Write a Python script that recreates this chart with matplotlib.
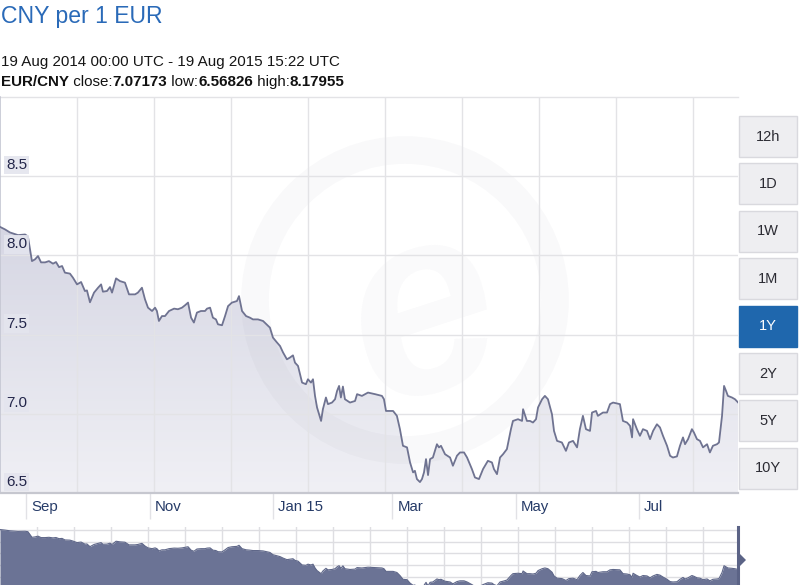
import numpy as np
import matplotlib
matplotlib.use('Agg')
import matplotlib.pyplot as plt
from matplotlib.patches import Rectangle, Polygon, Ellipse
from matplotlib.colors import LinearSegmentedColormap

plt.rcParams['font.family'] = ['Liberation Sans', 'DejaVu Sans']

# ---------------- data ----------------
start_date = np.datetime64('2014-08-19')
end_days = 365.0

day_offset = [
    0.0, 2.5, 4.9, 8.9, 12.4, 13.8, 15.8, 17.3, 18.8, 20.3, 22.3, 24.2, 26.2, 27.7, 29.2, 30.7,
    32.1, 34.6, 36.1, 38.1, 40.1, 42.0, 43.0, 44.5, 46.5, 48.5, 50.0, 50.9, 52.9, 54.4, 55.4, 57.4,
    59.3, 61.8, 63.8, 66.8, 68.2, 70.2, 71.7, 73.2, 75.2, 76.7, 77.6, 78.6, 80.1, 81.6, 83.6, 86.1,
    88.0, 90.0, 91.5, 93.0, 94.5, 95.9, 97.4, 99.4, 101.4, 102.4, 103.9, 105.3, 106.8, 107.8, 109.8,
    111.3, 112.8, 114.7, 117.2, 118.2, 119.7, 121.7, 123.6, 125.1, 127.6, 130.1, 133.5, 135.0, 137.0,
    138.5, 140.0, 141.9, 143.4, 144.9, 145.9, 147.4, 149.4, 151.3, 152.3, 153.8, 154.8, 155.8, 156.8,
    157.8, 158.8, 159.7, 161.2, 162.2, 164.2, 165.7, 166.7, 167.7, 168.6, 169.6, 170.6, 173.1, 175.6,
    176.6, 179.0, 182.0, 185.5, 188.9, 189.9, 190.9, 194.4, 196.3, 197.8, 199.3, 201.3, 202.8, 204.3,
    205.2, 206.2, 207.7, 208.7, 209.7, 210.7, 211.7, 212.7, 214.1, 216.1, 217.1, 218.1, 220.1, 222.6,
    224.0, 226.0, 227.5, 229.5, 231.0, 233.4, 234.9, 236.9, 238.9, 241.3, 243.3, 244.3, 245.8, 247.3,
    248.8, 250.7, 252.7, 253.7, 256.2, 258.2, 258.7, 260.6, 262.1, 263.6, 265.1, 266.1, 268.1, 269.5,
    271.0, 273.0, 274.0, 275.5, 277.9, 279.9, 281.4, 283.4, 285.4, 286.8, 288.3, 289.8, 291.8, 292.8,
    294.8, 295.7, 298.2, 300.2, 301.7, 303.2, 306.6, 308.1, 310.1, 311.6, 312.6, 313.1, 315.0, 316.5,
    318.0, 320.0, 321.5, 323.0, 324.9, 326.4, 327.9, 329.9, 331.4, 332.8, 334.8, 336.3, 337.8, 338.8,
    340.3, 342.2, 343.2, 344.7, 346.2, 347.7, 349.7, 351.1, 352.6, 354.6, 355.6, 357.1, 358.1, 359.1,
    360.0, 362.0, 363.5, 365.0,
]

eur_cny = [
    8.180, 8.164, 8.145, 8.128, 8.132, 8.120, 7.964, 7.975, 7.996, 7.956, 7.956, 7.964, 7.948, 7.958, 7.926, 7.933,
    7.891, 7.885, 7.859, 7.817, 7.832, 7.775, 7.779, 7.704, 7.765, 7.796, 7.817, 7.771, 7.775, 7.800, 7.765, 7.855,
    7.838, 7.828, 7.754, 7.754, 7.765, 7.796, 7.723, 7.670, 7.649, 7.670, 7.649, 7.586, 7.617, 7.617, 7.649, 7.664,
    7.660, 7.670, 7.685, 7.702, 7.607, 7.576, 7.639, 7.649, 7.649, 7.664, 7.670, 7.607, 7.596, 7.565, 7.559,
    7.617, 7.680, 7.702, 7.712, 7.743, 7.649, 7.617, 7.607, 7.596, 7.596, 7.586, 7.544, 7.481, 7.450,
    7.428, 7.387, 7.344, 7.355, 7.369, 7.323, 7.302, 7.197, 7.187, 7.218, 7.197, 7.218, 7.113, 7.040,
    6.997, 6.955, 7.029, 7.103, 7.061, 7.071, 7.092, 7.144, 7.176, 7.103, 7.172, 7.092, 7.071, 7.081,
    7.124, 7.113, 7.134, 7.124, 7.113, 7.092, 7.018, 7.018, 6.987, 6.903, 6.798, 6.788, 6.693, 6.630,
    6.640, 6.588, 6.569, 6.588, 6.630, 6.714, 6.613, 6.714, 6.724, 6.808, 6.788, 6.798, 6.745, 6.724,
    6.672, 6.735, 6.756, 6.756, 6.724, 6.651, 6.598, 6.588, 6.651, 6.703, 6.693, 6.651, 6.619, 6.724,
    6.745, 6.777, 6.903, 6.955, 6.966, 6.955, 7.029, 6.955, 6.955, 6.945, 6.966, 7.040, 7.092, 7.113,
    7.092, 6.997, 6.892, 6.829, 6.819, 6.766, 6.819, 6.829, 6.788, 6.903, 6.987, 6.903, 6.892, 7.008,
    7.018, 6.987, 7.008, 7.008, 7.061, 7.071, 7.061, 6.955, 6.945, 6.924, 6.851, 6.966, 6.903, 6.861,
    6.903, 6.892, 6.840, 6.892, 6.934, 6.914, 6.861, 6.798, 6.735, 6.724, 6.731, 6.798, 6.851, 6.808,
    6.840, 6.903, 6.882, 6.840, 6.829, 6.788, 6.808, 6.756, 6.798, 6.808, 6.819, 6.987, 7.176, 7.144,
    7.113, 7.103, 7.092, 7.072,
]

month_dates = ['2014-09-01', '2014-11-01', '2015-01-01', '2015-03-01', '2015-05-01', '2015-07-01']
month_labels = ['Sep', 'Nov', 'Jan 15', 'Mar', 'May', 'Jul']
y_ticks = [6.5, 7.0, 7.5, 8.0, 8.5]
y_tick_labels = ['6.5', '7.0', '7.5', '8.0', '8.5']
range_buttons = ['12h', '1D', '1W', '1M', '1Y', '2Y', '5Y', '10Y']
active_button = '1Y'
title_text = 'CNY per 1 EUR'
period_text = '19 Aug 2014 00:00 UTC - 19 Aug 2015 15:22 UTC'
pair_text = 'EUR/CNY'
stat_names = ['close', 'low', 'high']
stat_values = ['7.07173', '6.56826', '8.17955']

# ---------------- layout helpers ----------------
W, H = 800, 585
fig = plt.figure(figsize=(W / 100, H / 100), dpi=100)
fig.patch.set_facecolor('white')


def fx(px):
    return px / W


def fy(py):
    return 1 - py / H


x = np.array(day_offset)
y = np.array(eur_cny)
month_pos = [(np.datetime64(d) - start_date) / np.timedelta64(1, 'D') for d in month_dates]

plot_left, plot_right, plot_top, plot_bottom = 0, 738, 97, 493
ax = fig.add_axes([fx(plot_left), fy(plot_bottom), fx(plot_right - plot_left),
                   (plot_bottom - plot_top) / H])
ax.set_xlim(0, end_days)
ax.set_ylim(6.5, 9.0)
ax.set_facecolor('white')

# grid
ax.set_yticks(y_ticks)
ax.set_xticks(month_pos)
ax.set_xticks(np.arange(38.07, end_days, 38.07), minor=True)
ax.grid(axis='y', which='major', color='#e3e3e6', lw=1.0, zorder=0)
ax.grid(axis='x', which='minor', color='#e3e3e6', lw=1.0, zorder=0)
ax.tick_params(axis='y', left=False, labelleft=False)
ax.tick_params(axis='x', which='major', direction='out', length=19, width=1,
               color='#e2e2e6', labelbottom=False)
ax.tick_params(axis='x', which='minor', length=0)

for s in ['top', 'right']:
    ax.spines[s].set_visible(False)
ax.spines['left'].set_color('#c4c6d2')
ax.spines['left'].set_linewidth(1.2)
ax.spines['bottom'].set_color('#c6c7cf')
ax.spines['bottom'].set_linewidth(1.6)
ax.plot([0, 1], [1, 1], transform=ax.transAxes, color='#e3e3e6', lw=1, clip_on=False)

# watermark (faint logo)
wm_col = (0.1, 0.1, 0.25, 0.022)
ring = Ellipse((fx(405), fy(300)), 2 * 150 / W, 2 * 150 / H, transform=fig.transFigure,
               fill=False, lw=20, edgecolor=wm_col, zorder=1.5)
ax.add_patch(ring)
ax.text(fx(425), fy(320), 'e', transform=fig.transFigure, fontsize=190, fontweight='bold',
        fontstyle='italic', rotation=18, color=wm_col, ha='center', va='center', zorder=1.5)

# gradient area fill
verts = np.column_stack([np.concatenate([[x[0]], x, [x[-1]]]),
                         np.concatenate([[6.5], y, [6.5]])])
clip_poly = Polygon(verts, closed=True, facecolor='none', edgecolor='none')
ax.add_patch(clip_poly)
cmap = LinearSegmentedColormap.from_list('area', ['#f0f0f5', '#c9cadb'])
grad = np.linspace(0, 1, 256).reshape(-1, 1)
im = ax.imshow(grad, extent=[0, end_days, 6.5, 9.0], origin='lower', aspect='auto',
               cmap=cmap, zorder=1, interpolation='bilinear')
im.set_clip_path(clip_poly)
ax.plot(x, y, color='#6f7391', lw=1.3, zorder=3, solid_joinstyle='round')

# y labels inside the plot
for v, lab in zip(y_ticks, y_tick_labels):
    ax.annotate(lab, xy=(0, v), xycoords=('axes fraction', 'data'), xytext=(6, 4),
                textcoords='offset pixels', ha='left', va='bottom', fontsize=11,
                color='#23264a', zorder=4,
                bbox=dict(boxstyle='square,pad=0.15', facecolor='#e4e5ee', edgecolor='none', alpha=0.9))

# month labels
for p, lab in zip(month_pos, month_labels):
    ax.annotate(lab, xy=(p, 0), xycoords=('data', 'axes fraction'), xytext=(5, -14),
                textcoords='offset pixels', ha='left', va='center', fontsize=10.8,
                color='#263b68', annotation_clip=False)

# ---------------- navigator ----------------
nav = fig.add_axes([fx(0), 0, fx(738), 58 / H])
nav.set_xlim(0, end_days)
nav.set_ylim(6.64, 8.25)
nav.set_facecolor('white')
for s in nav.spines.values():
    s.set_visible(False)
nav.set_xticks(np.arange(18.3, end_days, 18.3))
nav.set_yticks([])
nav.tick_params(length=0, labelbottom=False, labelleft=False)
nav.grid(axis='x', color='#dedee2', lw=1, zorder=0)
for f in [0.948, 0.741, 0.552, 0.345, 0.138]:
    nav.plot([0, 1], [f, f], transform=nav.transAxes, color='#dedee2', lw=1, zorder=0)
nav.fill_between(x, y, 6.0, color='#6b7395', lw=0, zorder=2)
nav.plot(x, y, color='#5f6789', lw=0.8, zorder=3)
nav.plot([1, 1], [0, 1], transform=nav.transAxes, color='#5b6386', lw=2.2, clip_on=False, zorder=4)
fig.add_artist(Polygon([[fx(739), fy(553)], [fx(746), fy(560)], [fx(739), fy(567)]],
                       closed=True, transform=fig.transFigure, facecolor='#5b6386',
                       edgecolor='none'))

# ---------------- buttons ----------------
btn_top0, btn_pitch, btn_h = 116, 47.4, 41
for i, lab in enumerate(range_buttons):
    top = btn_top0 + i * btn_pitch
    active = lab == active_button
    fig.add_artist(Rectangle((fx(739), fy(top + btn_h)), fx(58), btn_h / H,
                             transform=fig.transFigure,
                             facecolor='#1f67ad' if active else '#eeeef1',
                             edgecolor='#1f67ad' if active else '#d9d9de', lw=1))
    fig.text(fx(768), fy(top + btn_h / 2), lab, ha='center', va='center', fontsize=10.5,
             color='white' if active else '#2b2b33')

# ---------------- header text ----------------
fig.text(fx(1), fy(23), title_text, fontsize=16.6, color='#2a6ab8', va='baseline', ha='left')
fig.text(fx(1), fy(66), period_text, fontsize=10.9, color='#151515', va='baseline', ha='left')

renderer = fig.canvas.get_renderer()
pieces = [(pair_text, True)]
for nm, val in zip(stat_names, stat_values):
    pieces.append((' ' + nm + ':', False))
    pieces.append((val, True))
xpos = 1.0
for txt, bold in pieces:
    t = fig.text(fx(xpos), fy(86), txt, fontsize=10.9, color='#111111', va='baseline',
                 ha='left', fontweight='bold' if bold else 'normal')
    bb = t.get_window_extent(renderer)
    xpos = bb.x1

fig.savefig('out.png', dpi=100, facecolor='white')
